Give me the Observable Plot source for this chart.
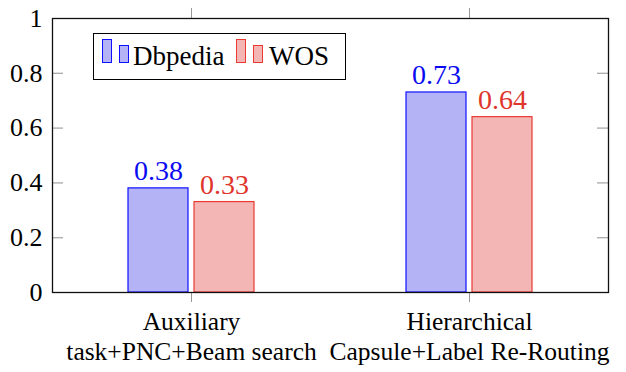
<!DOCTYPE html>
<html>
<head>
<meta charset="utf-8">
<script src="https://cdn.jsdelivr.net/npm/d3@7"></script>
<script src="https://cdn.jsdelivr.net/npm/@observablehq/plot@0.6"></script>
<style>
  html, body { margin: 0; padding: 0; background: white; }
  #wrap { position: relative; width: 626px; height: 372px; }
  #legend { position: absolute; left: 93px; top: 33px; width: 251px; height: 45px;
    border: 1px solid #000; background: white; font-family: "Liberation Serif", "Times New Roman", "DejaVu Serif", serif; font-size: 27px; }
  .sw { position: absolute; box-sizing: border-box; border: 1.2px solid; }
  .lt { position: absolute; top: 4px; line-height: 36px; color: #000; }
</style>
</head>
<body>
<div id="wrap">
  <div id="chart"></div>
  <div id="legend"></div>
</div>
<script>
// ---- data ----
const categories = ["Auxiliary task+PNC+Beam search", "Hierarchical Capsule+Label Re-Routing"];
const tickLabels = ["Auxiliary\ntask+PNC+Beam search", "Hierarchical\nCapsule+Label Re-Routing"];
const seriesNames = ["Dbpedia", "WOS"];
const dbpediaValues = [0.38, 0.73];
const wosValues = [0.33, 0.64];
const yTicks = [0, 0.2, 0.4, 0.6, 0.8, 1];

// ---- styles ----
const blueFill = "#b3b3f6", blueStroke = "#1010ff", blueText = "#0a0af0";
const redFill = "#f4b5b5", redStroke = "#ea3a32", redText = "#e0352c";
const serif = "'Liberation Serif', 'Times New Roman', 'DejaVu Serif', serif";

const rowsDb = categories.map((c, i) => ({group: c, value: dbpediaValues[i]}));
const rowsWos = categories.map((c, i) => ({group: c, value: wosValues[i]}));
const labelOf = new Map(categories.map((c, i) => [c, tickLabels[i]]));

const W = 626, H = 372, mL = 52, mR = 18, mT = 18, mB = 80;
const plotW = W - mL - mR;

const chart = Plot.plot({
  width: W, height: H,
  marginLeft: mL, marginRight: mR, marginTop: mT, marginBottom: mB,
  style: {background: "white", fontFamily: serif, fontSize: "26px", color: "black"},
  x: {type: "band", domain: categories, padding: 0, axis: null, label: null},
  y: {domain: [0, 1], axis: null, label: null},
  marks: [
    Plot.barY(rowsDb, {x: "group", y: "value", fill: blueFill, stroke: blueStroke, strokeWidth: 1.2, insetLeft: 76, insetRight: 142}),
    Plot.barY(rowsWos, {x: "group", y: "value", fill: redFill, stroke: redStroke, strokeWidth: 1.2, insetLeft: 142, insetRight: 76}),
    Plot.text(rowsDb, {x: "group", y: "value", text: d => d.value.toFixed(2), dx: -33, dy: -8, lineAnchor: "bottom", fill: blueText, fontSize: 28}),
    Plot.text(rowsWos, {x: "group", y: "value", text: d => d.value.toFixed(2), dx: 33, dy: -8, lineAnchor: "bottom", fill: redText, fontSize: 28}),
    // inner y ticks on both sides
    Plot.ruleY(yTicks.slice(1, -1), {y: d => d, stroke: "#aaa", strokeWidth: 1.3, insetRight: plotW - 11}),
    Plot.ruleY(yTicks.slice(1, -1), {y: d => d, stroke: "#aaa", strokeWidth: 1.3, insetLeft: plotW - 11}),
    Plot.axisY(yTicks, {anchor: "left", label: null, tickSize: 0, tickPadding: 10, tickFormat: d => String(d), fill: "black"}),
    Plot.axisX({anchor: "bottom", label: null, tickSize: 10, tickPadding: 7, stroke: "#999", tickFormat: d => labelOf.get(d), lineHeight: 1.15, fontSize: 25.5, fill: "black"}),
    Plot.axisX({anchor: "top", label: null, tickSize: 11, stroke: "#999", tickFormat: null, text: null}),
    Plot.frame({stroke: "#111", strokeWidth: 1.3})
  ]
});
document.getElementById("chart").appendChild(chart);

// ---- legend ----
const legend = document.getElementById("legend");
const items = [
  {name: seriesNames[0], fill: blueFill, stroke: blueStroke, x: 8, tx: 39},
  {name: seriesNames[1], fill: redFill, stroke: redStroke, x: 142, tx: 175}
];
for (const it of items) {
  const a = document.createElement("div");
  a.className = "sw";
  Object.assign(a.style, {left: it.x + "px", top: "5px", width: "10px", height: "24px", background: it.fill, borderColor: it.stroke});
  legend.appendChild(a);
  const b = document.createElement("div");
  b.className = "sw";
  Object.assign(b.style, {left: (it.x + 17) + "px", top: "11px", width: "10px", height: "18px", background: it.fill, borderColor: it.stroke});
  legend.appendChild(b);
  const t = document.createElement("div");
  t.className = "lt";
  t.textContent = it.name;
  t.style.left = it.tx + "px";
  legend.appendChild(t);
}
</script>
</body>
</html>
